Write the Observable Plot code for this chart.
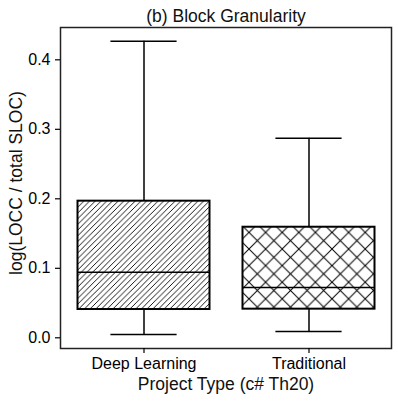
<!DOCTYPE html>
<html>
<head>
<meta charset="utf-8">
<script src="https://cdn.jsdelivr.net/npm/d3@7"></script>
<script src="https://cdn.jsdelivr.net/npm/@observablehq/plot@0.6"></script>
<style>
  html, body { margin: 0; padding: 0; background: white; }
</style>
</head>
<body>
<div id="chart"></div>
<script>
// ---- data ----
const categories = ["Deep Learning", "Traditional"];
const whiskerLow = [0.0047, 0.0091];
const quartile1 = [0.0407, 0.0412];
const median = [0.0944, 0.0724];
const quartile3 = [0.1966, 0.1591];
const whiskerHigh = [0.4268, 0.2872];
const yTicks = [0, 0.1, 0.2, 0.3, 0.4];
const titleText = "(b) Block Granularity";
const xLabel = "Project Type (c# Th20)";
const yLabel = "log(LOCC / total SLOC)";

const table = categories.map((c, i) => ({
  category: c, lo: whiskerLow[i], q1: quartile1[i], med: median[i], q3: quartile3[i], hi: whiskerHigh[i]
}));

const fontFamily = "'Liberation Sans', Arial, Helvetica, sans-serif";
const boxInset = 16.5;
const capInset = 49.4;

const chart = Plot.plot({
  width: 398,
  height: 401,
  marginLeft: 60,
  marginRight: 7,
  marginTop: 27,
  marginBottom: 53,
  style: { fontFamily, background: "white", color: "black", overflow: "visible" },
  x: { domain: categories, padding: 0, label: null },
  y: { domain: [-0.0154, 0.4465], label: null },
  marks: [
    Plot.ruleX(table, { x: "category", y1: "q3", y2: "hi", stroke: "black", strokeWidth: 1.5 }),
    Plot.ruleX(table, { x: "category", y1: "lo", y2: "q1", stroke: "black", strokeWidth: 1.5 }),
    Plot.tickY(table, { x: "category", y: "hi", inset: capInset, stroke: "black", strokeWidth: 1.5 }),
    Plot.tickY(table, { x: "category", y: "lo", inset: capInset, stroke: "black", strokeWidth: 1.5 }),
    Plot.barY(table.filter((d, i) => i === 0), { x: "category", y1: "q1", y2: "q3", insetLeft: boxInset, insetRight: boxInset, fill: "url(#hatchDiag)", stroke: "black", strokeWidth: 2 }),
    Plot.barY(table.filter((d, i) => i === 1), { x: "category", y1: "q1", y2: "q3", insetLeft: boxInset, insetRight: boxInset, fill: "url(#hatchCross)", stroke: "black", strokeWidth: 2 }),
    Plot.tickY(table, { x: "category", y: "med", inset: boxInset, stroke: "black", strokeWidth: 1.5 }),
    Plot.frame({ stroke: "#222", strokeWidth: 1.5 }),
    Plot.axisY({ ticks: yTicks, tickFormat: d3.format(".1f"), tickSize: 5, tickPadding: 5, fontSize: 16, label: null, strokeWidth: 1.2 }),
    Plot.axisX({ tickSize: 5, tickPadding: 4, fontSize: 16, label: null, strokeWidth: 1.2 }),
    Plot.text([titleText], { frameAnchor: "top", lineAnchor: "bottom", dy: -6, fontSize: 17.5, fill: "#111" }),
    Plot.text([xLabel], { frameAnchor: "bottom", lineAnchor: "bottom", dy: 41.5, fontSize: 17.5, fill: "#111" }),
    Plot.text([yLabel], { frameAnchor: "left", textAnchor: "middle", lineAnchor: "bottom", rotate: -90, dx: -39, dy: -5, fontSize: 17.5, fill: "#111" })
  ]
});

// hatch patterns
const svg = d3.select(chart);
const defs = svg.insert("defs", ":first-child");
const s = 5.7;
const diag = defs.append("pattern")
  .attr("id", "hatchDiag").attr("patternUnits", "userSpaceOnUse")
  .attr("width", s).attr("height", s);
diag.append("rect").attr("width", s).attr("height", s).attr("fill", "white");
diag.append("path")
  .attr("d", `M0,${s} L${s},0 M${-s/2},${s/2} L${s/2},${-s/2} M${s/2},${s*1.5} L${s*1.5},${s/2}`)
  .attr("stroke", "black").attr("stroke-width", 0.9).attr("fill", "none");
const c = 16.6;
const cross = defs.append("pattern")
  .attr("id", "hatchCross").attr("patternUnits", "userSpaceOnUse")
  .attr("width", c).attr("height", c);
cross.append("rect").attr("width", c).attr("height", c).attr("fill", "white");
cross.append("path")
  .attr("d", `M0,0 L${c},${c} M0,${c} L${c},0`)
  .attr("stroke", "black").attr("stroke-width", 1).attr("fill", "none");

document.getElementById("chart").appendChild(chart);
</script>
</body>
</html>
